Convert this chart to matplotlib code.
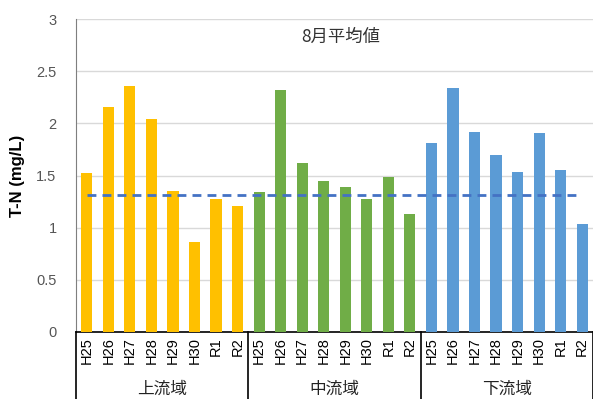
import matplotlib
matplotlib.use("Agg")
import matplotlib.pyplot as plt
import numpy as np

plt.rcParams['font.family'] = ['Noto Sans CJK JP', 'DejaVu Sans']

years = ["H25", "H26", "H27", "H28", "H29", "H30", "R1", "R2"]
groups = ["上流域", "中流域", "下流域"]
upper = [1.52, 2.16, 2.36, 2.04, 1.35, 0.86, 1.27, 1.21]
middle = [1.34, 2.32, 1.62, 1.45, 1.39, 1.27, 1.49, 1.13]
lower = [1.81, 2.34, 1.92, 1.70, 1.53, 1.91, 1.55, 1.03]
colors = ["#FFC000", "#70AD47", "#5B9BD5"]
ref_value = 1.31
title = "8月平均値"
ylabel = "T-N (mg/L)"

fig = plt.figure(figsize=(5.93, 3.99), dpi=100)
ax = fig.add_axes([76/593, (399-331.7)/399, (593-76)/593, (331.7-19.3)/399])

series = [upper, middle, lower]
n = len(years)
xs_all = []
labels_all = []
for gi, (vals, col) in enumerate(zip(series, colors)):
    xs = np.arange(n) + gi * n
    ax.bar(xs, vals, width=0.52, color=col, zorder=3)
    xs_all.extend(xs)
    labels_all.extend(years)

total = n * len(groups)
ax.set_xlim(-0.5, total - 0.5)
ax.set_ylim(0, 3)
ax.set_yticks(np.arange(0, 3.01, 0.5))
ax.set_yticklabels(["0", "0.5", "1", "1.5", "2", "2.5", "3"])
ax.yaxis.grid(True, color="#D9D9D9", linewidth=1, zorder=0)
ax.set_axisbelow(True)

ax.plot([0, total - 1], [ref_value, ref_value], linestyle=(0, (3.2, 2.2)),
        color="#4472C4", linewidth=2, zorder=4)

ax.set_xticks(xs_all)
ax.set_xticklabels(labels_all, rotation=90, fontsize=10.5, color="#000000",
                   family=['Liberation Sans', 'DejaVu Sans'])
ax.tick_params(axis='x', length=0, pad=4)
ax.tick_params(axis='y', length=0, pad=14, labelsize=10.5, labelcolor="#555555")
for lab in ax.get_yticklabels():
    lab.set_family(['Liberation Sans', 'DejaVu Sans'])

for s in ["top", "right"]:
    ax.spines[s].set_visible(False)
ax.spines["left"].set_color("#7F7F7F")
ax.spines["bottom"].set_color("#000000")
ax.spines["bottom"].set_linewidth(1.2)

trans = ax.get_xaxis_transform()
depth = -(399 - 331.7) / 312.4
for gi in range(len(groups) + 1):
    xb = gi * n - 0.5
    ax.plot([xb, xb], [0, depth], transform=trans, color="#000000",
            linewidth=1.2, clip_on=False, zorder=5)
for gi, g in enumerate(groups):
    ax.text(gi * n + (n - 1) / 2, -0.183, g, transform=trans, ha="center",
            va="center", fontsize=12, color="#222222")

ax.set_ylabel(ylabel, fontsize=12, fontweight="bold", labelpad=8,
              family=['Liberation Sans', 'DejaVu Sans'])
fig.text(341/593, 1 - 37/399, title, ha="center", va="center", fontsize=12.5,
         color="#333333")

fig.savefig("out.png", dpi=100)
